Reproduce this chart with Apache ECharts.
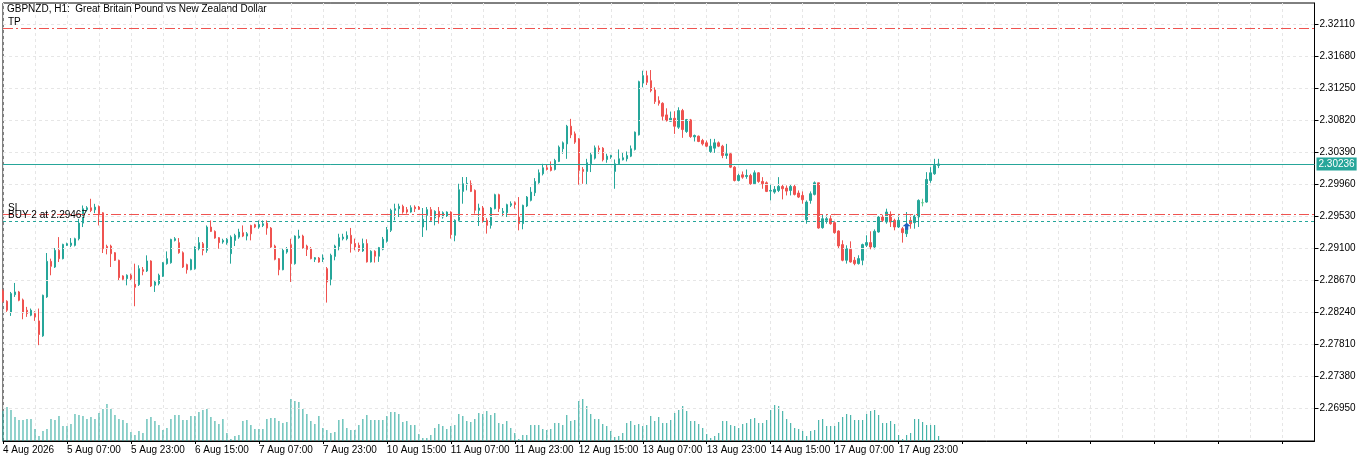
<!DOCTYPE html>
<html>
<head>
  <meta charset="utf-8" />
  <title>GBPNZD H1</title>
  <script src="https://cdn.jsdelivr.net/npm/echarts@6.0.0/dist/echarts.min.js"></script>
</head>
<style>
  body { margin: 0; padding: 0; overflow: hidden; background: #fff; }
</style>
<body>
  <div id="main" style="width: 1366px;height: 462px;"></div>
  <script type="text/javascript">
    // trading days shown on the chart (weekends skipped), first bar at 15:00
    const tradingDays = ['4 Aug', '5 Aug', '6 Aug', '7 Aug', '10 Aug', '11 Aug', '12 Aug', '13 Aug', '14 Aug',
      '17 Aug', '18 Aug', '19 Aug', '20 Aug', '21 Aug', '24 Aug'];
    const firstHour = 15;
    const slotCount = 329; // bars + empty space on the right

    // [open, high, low, close]
    const candles = [
      [2.28530, 2.28552, 2.28373, 2.28391], [2.28391, 2.28404, 2.28248, 2.28270], [2.28239, 2.28516, 2.28194, 2.28494],
      [2.28480, 2.28637, 2.28449, 2.28516], [2.28516, 2.28530, 2.28391, 2.28404], [2.28409, 2.28427, 2.28149, 2.28234],
      [2.28270, 2.28315, 2.28181, 2.28225], [2.28203, 2.28293, 2.28190, 2.28270], [2.28225, 2.28257, 2.28127, 2.28181],
      [2.28127, 2.28293, 2.27801, 2.27944], [2.27926, 2.28480, 2.27913, 2.28471], [2.28449, 2.29039, 2.28436, 2.28927],
      [2.28927, 2.28963, 2.28740, 2.28860], [2.28851, 2.29106, 2.28838, 2.29075], [2.29075, 2.29253, 2.28918, 2.28963],
      [2.28963, 2.29164, 2.28954, 2.29155], [2.29142, 2.29178, 2.29133, 2.29164], [2.29142, 2.29240, 2.29119, 2.29173],
      [2.29142, 2.29245, 2.29128, 2.29231], [2.29231, 2.29499, 2.29209, 2.29441], [2.29441, 2.29678, 2.29388, 2.29634],
      [2.29620, 2.29669, 2.29598, 2.29647], [2.29647, 2.29768, 2.29589, 2.29611], [2.29620, 2.29700, 2.29575, 2.29656],
      [2.29665, 2.29678, 2.29410, 2.29566], [2.29580, 2.29589, 2.29039, 2.29097], [2.29128, 2.29151, 2.29021, 2.29097],
      [2.29133, 2.29151, 2.28851, 2.29030], [2.29043, 2.29052, 2.28932, 2.28941], [2.28941, 2.28950, 2.28672, 2.28708],
      [2.28731, 2.28740, 2.28672, 2.28686], [2.28695, 2.28753, 2.28605, 2.28740], [2.28740, 2.28762, 2.28672, 2.28695],
      [2.28619, 2.28896, 2.28324, 2.28579], [2.28614, 2.28874, 2.28596, 2.28829], [2.28815, 2.28851, 2.28740, 2.28793],
      [2.28798, 2.29008, 2.28784, 2.28932], [2.28932, 2.28941, 2.28583, 2.28596], [2.28605, 2.28672, 2.28516, 2.28650],
      [2.28628, 2.28762, 2.28605, 2.28740], [2.28726, 2.28918, 2.28717, 2.28909], [2.28896, 2.29061, 2.28883, 2.28963],
      [2.28909, 2.29231, 2.28896, 2.29222], [2.29209, 2.29253, 2.29195, 2.29231], [2.29178, 2.29240, 2.29030, 2.29043],
      [2.29043, 2.29061, 2.28838, 2.28851], [2.28883, 2.28896, 2.28762, 2.28815], [2.28815, 2.28963, 2.28807, 2.28950],
      [2.28829, 2.29128, 2.28815, 2.29119], [2.29097, 2.29253, 2.29075, 2.29178], [2.29164, 2.29187, 2.29008, 2.29075],
      [2.29075, 2.29410, 2.29043, 2.29388], [2.29388, 2.29477, 2.29321, 2.29330], [2.29330, 2.29343, 2.29231, 2.29240],
      [2.29245, 2.29253, 2.29097, 2.29178], [2.29187, 2.29231, 2.29164, 2.29209], [2.29178, 2.29240, 2.29151, 2.29222],
      [2.29030, 2.29276, 2.28896, 2.29253], [2.29209, 2.29298, 2.29133, 2.29276], [2.29253, 2.29365, 2.29231, 2.29321],
      [2.29312, 2.29410, 2.29253, 2.29267], [2.29267, 2.29321, 2.29209, 2.29298], [2.29410, 2.29419, 2.29209, 2.29298],
      [2.29419, 2.29432, 2.29374, 2.29388], [2.29388, 2.29477, 2.29365, 2.29423], [2.29410, 2.29477, 2.29388, 2.29432],
      [2.29441, 2.29477, 2.29285, 2.29374], [2.29374, 2.29388, 2.29106, 2.29119], [2.29133, 2.29151, 2.28941, 2.28954],
      [2.28963, 2.28972, 2.28740, 2.28815], [2.28815, 2.29097, 2.28807, 2.29075], [2.29052, 2.29119, 2.29030, 2.29097],
      [2.29151, 2.29231, 2.28650, 2.28896], [2.28896, 2.29276, 2.28883, 2.29267], [2.29245, 2.29352, 2.29231, 2.29267],
      [2.29267, 2.29285, 2.29097, 2.29106], [2.29133, 2.29151, 2.28999, 2.29088], [2.29097, 2.29119, 2.28954, 2.28963],
      [2.28954, 2.28985, 2.28918, 2.28976], [2.28972, 2.28985, 2.28909, 2.28918], [2.28954, 2.29021, 2.28918, 2.28972],
      [2.28829, 2.28851, 2.28373, 2.28650], [2.28686, 2.29030, 2.28605, 2.29008], [2.28994, 2.29151, 2.28941, 2.29133],
      [2.29128, 2.29298, 2.29075, 2.29245], [2.29231, 2.29298, 2.29209, 2.29253], [2.29231, 2.29330, 2.29209, 2.29276],
      [2.29277, 2.29376, 2.29045, 2.29166], [2.29166, 2.29233, 2.29076, 2.29121], [2.29143, 2.29179, 2.29054, 2.29076],
      [2.29067, 2.29233, 2.29054, 2.29166], [2.29166, 2.29224, 2.28911, 2.28920], [2.28920, 2.29076, 2.28911, 2.29063],
      [2.29063, 2.29076, 2.28911, 2.28996], [2.28996, 2.29121, 2.28920, 2.29112], [2.29090, 2.29255, 2.29076, 2.29224],
      [2.29197, 2.29389, 2.29179, 2.29353], [2.29344, 2.29635, 2.29321, 2.29613], [2.29613, 2.29702, 2.29479, 2.29635],
      [2.29635, 2.29702, 2.29523, 2.29666], [2.29666, 2.29689, 2.29568, 2.29590], [2.29622, 2.29657, 2.29568, 2.29590],
      [2.29590, 2.29680, 2.29581, 2.29648], [2.29657, 2.29680, 2.29590, 2.29635], [2.29657, 2.29671, 2.29617, 2.29626],
      [2.29389, 2.29644, 2.29255, 2.29492], [2.29546, 2.29657, 2.29344, 2.29622], [2.29622, 2.29657, 2.29470, 2.29479],
      [2.29510, 2.29613, 2.29411, 2.29599], [2.29599, 2.29657, 2.29434, 2.29523], [2.29523, 2.29599, 2.29501, 2.29581],
      [2.29537, 2.29599, 2.29523, 2.29590], [2.29590, 2.29599, 2.29233, 2.29286], [2.29277, 2.29492, 2.29197, 2.29479],
      [2.29479, 2.29970, 2.29465, 2.29890], [2.29867, 2.30060, 2.29702, 2.29970], [2.29957, 2.30060, 2.29881, 2.29975],
      [2.29970, 2.30015, 2.29858, 2.29867], [2.29881, 2.29894, 2.29568, 2.29613], [2.29613, 2.29702, 2.29402, 2.29644],
      [2.29644, 2.29671, 2.29447, 2.29465], [2.29479, 2.29510, 2.29300, 2.29411], [2.29411, 2.29657, 2.29367, 2.29644],
      [2.29635, 2.29836, 2.29626, 2.29823], [2.29823, 2.29836, 2.29590, 2.29635], [2.29581, 2.29644, 2.29537, 2.29599],
      [2.29581, 2.29702, 2.29523, 2.29689], [2.29680, 2.29733, 2.29657, 2.29702], [2.29715, 2.29733, 2.29635, 2.29689],
      [2.29523, 2.29791, 2.29344, 2.29434], [2.29434, 2.29689, 2.29358, 2.29680], [2.29671, 2.29805, 2.29657, 2.29791],
      [2.29747, 2.29925, 2.29733, 2.29858], [2.29849, 2.30046, 2.29805, 2.30001], [2.29984, 2.30162, 2.29970, 2.30118],
      [2.30104, 2.30238, 2.30082, 2.30185], [2.30185, 2.30225, 2.30149, 2.30162], [2.30194, 2.30270, 2.30136, 2.30149],
      [2.30162, 2.30305, 2.30149, 2.30283], [2.30270, 2.30484, 2.30261, 2.30462], [2.30440, 2.30538, 2.30373, 2.30520],
      [2.30506, 2.30761, 2.30305, 2.30743], [2.30743, 2.30842, 2.30583, 2.30627], [2.30641, 2.30672, 2.30506, 2.30529],
      [2.30574, 2.30583, 2.29957, 2.30149], [2.30162, 2.30194, 2.29970, 2.30136], [2.30136, 2.30305, 2.29957, 2.30252],
      [2.30238, 2.30386, 2.30127, 2.30359], [2.30314, 2.30484, 2.30296, 2.30453], [2.30448, 2.30484, 2.30373, 2.30431],
      [2.30448, 2.30462, 2.30270, 2.30292], [2.30296, 2.30373, 2.30252, 2.30341], [2.30328, 2.30359, 2.30305, 2.30350],
      [2.30136, 2.30296, 2.29903, 2.30238], [2.30238, 2.30431, 2.30225, 2.30305], [2.30292, 2.30395, 2.30283, 2.30319],
      [2.30305, 2.30404, 2.30270, 2.30350], [2.30341, 2.30484, 2.30328, 2.30440], [2.30431, 2.30672, 2.30417, 2.30663],
      [2.30627, 2.31355, 2.30618, 2.31342], [2.31324, 2.31489, 2.31266, 2.31422], [2.31422, 2.31489, 2.31297, 2.31333],
      [2.31355, 2.31498, 2.31199, 2.31221], [2.31230, 2.31266, 2.31043, 2.31074], [2.31087, 2.31145, 2.31020, 2.31051],
      [2.31051, 2.31065, 2.30819, 2.30877], [2.30895, 2.30984, 2.30806, 2.30819], [2.30810, 2.30940, 2.30806, 2.30850],
      [2.30850, 2.30944, 2.30640, 2.30743], [2.30730, 2.30998, 2.30707, 2.30953], [2.30953, 2.30976, 2.30587, 2.30698],
      [2.30672, 2.30841, 2.30654, 2.30832], [2.30828, 2.30841, 2.30587, 2.30604], [2.30600, 2.30631, 2.30538, 2.30618],
      [2.30609, 2.30618, 2.30529, 2.30538], [2.30551, 2.30573, 2.30484, 2.30506], [2.30520, 2.30551, 2.30462, 2.30475],
      [2.30403, 2.30573, 2.30385, 2.30475], [2.30448, 2.30573, 2.30385, 2.30520], [2.30520, 2.30538, 2.30462, 2.30475],
      [2.30475, 2.30493, 2.30314, 2.30350], [2.30350, 2.30506, 2.30305, 2.30372], [2.30372, 2.30385, 2.30180, 2.30193],
      [2.30193, 2.30207, 2.30001, 2.30014], [2.30014, 2.30104, 2.30001, 2.30081], [2.30090, 2.30135, 2.30037, 2.30059],
      [2.30068, 2.30162, 2.30037, 2.30081], [2.30081, 2.30104, 2.29956, 2.29970], [2.29970, 2.30149, 2.29956, 2.30117],
      [2.30117, 2.30126, 2.29983, 2.30001], [2.30001, 2.30059, 2.29903, 2.29970], [2.29983, 2.30001, 2.29858, 2.29867],
      [2.29871, 2.29956, 2.29746, 2.29880], [2.29858, 2.29939, 2.29836, 2.29894], [2.29880, 2.30059, 2.29858, 2.29934],
      [2.29934, 2.29956, 2.29760, 2.29903], [2.29912, 2.29947, 2.29813, 2.29871], [2.29880, 2.29956, 2.29813, 2.29934],
      [2.29934, 2.29956, 2.29813, 2.29827], [2.29845, 2.29880, 2.29778, 2.29791], [2.29813, 2.29867, 2.29702, 2.29755],
      [2.29487, 2.29746, 2.29433, 2.29724], [2.29746, 2.29867, 2.29702, 2.29836], [2.29827, 2.30001, 2.29813, 2.29983],
      [2.29983, 2.29983, 2.29366, 2.29375], [2.29380, 2.29554, 2.29366, 2.29500], [2.29478, 2.29545, 2.29433, 2.29500],
      [2.29500, 2.29545, 2.29420, 2.29433], [2.29447, 2.29465, 2.29299, 2.29313], [2.29335, 2.29344, 2.29098, 2.29134],
      [2.29152, 2.29210, 2.28928, 2.28942], [2.28942, 2.29143, 2.28897, 2.29098], [2.29089, 2.29196, 2.28910, 2.28919],
      [2.28942, 2.28986, 2.28875, 2.28897], [2.28897, 2.29009, 2.28884, 2.28964], [2.28942, 2.29165, 2.28875, 2.29152],
      [2.29143, 2.29277, 2.29120, 2.29179], [2.29179, 2.29331, 2.29089, 2.29120], [2.29120, 2.29357, 2.29089, 2.29331],
      [2.29322, 2.29536, 2.29313, 2.29523], [2.29523, 2.29554, 2.29456, 2.29478], [2.29456, 2.29635, 2.29433, 2.29590],
      [2.29554, 2.29599, 2.29389, 2.29456], [2.29478, 2.29500, 2.29344, 2.29389], [2.29389, 2.29545, 2.29375, 2.29478],
      [2.29366, 2.29389, 2.29179, 2.29313], [2.29299, 2.29590, 2.29255, 2.29366], [2.29478, 2.29545, 2.29366, 2.29433],
      [2.29447, 2.29554, 2.29366, 2.29536], [2.29523, 2.29760, 2.29389, 2.29746], [2.29715, 2.29769, 2.29666, 2.29715],
      [2.29724, 2.30126, 2.29715, 2.30028], [2.30014, 2.30193, 2.29983, 2.30117], [2.30104, 2.30305, 2.30090, 2.30216],
      [2.30216, 2.30305, 2.30180, 2.30236]
    ];

    // tick volume per bar
    const volumes = [
      30, 34, 31, 24, 21, 21, 22, 22, 12, 5, 10, 12, 22, 21, 25, 15, 15, 17, 27, 26,
      25, 22, 24, 22, 28, 32, 37, 32, 26, 22, 21, 18, 9, 6, 10, 8, 22, 24, 20, 16,
      11, 13, 22, 26, 26, 21, 21, 25, 25, 29, 31, 32, 24, 20, 17, 22, 8, 2, 5, 6,
      20, 21, 16, 12, 12, 12, 22, 23, 23, 20, 18, 19, 42, 40, 39, 32, 27, 20, 17, 25,
      13, 11, 8, 9, 21, 22, 13, 11, 11, 16, 22, 26, 21, 21, 21, 21, 25, 29, 29, 27,
      19, 20, 16, 16, 7, 3, 3, 6, 13, 17, 15, 12, 15, 16, 27, 25, 20, 19, 22, 28,
      27, 30, 26, 28, 18, 17, 20, 13, 8, 2, 6, 6, 16, 16, 16, 12, 11, 12, 18, 18,
      16, 26, 20, 21, 40, 42, 35, 27, 22, 22, 17, 15, 10, 4, 5, 8, 18, 20, 16, 17,
      15, 16, 25, 20, 24, 18, 18, 21, 28, 31, 35, 30, 20, 20, 17, 13, 7, 3, 5, 8,
      20, 20, 16, 15, 13, 17, 18, 22, 23, 18, 18, 21, 31, 36, 35, 30, 22, 18, 13, 12,
      10, 5, 10, 11, 21, 22, 15, 15, 15, 19, 24, 27, 26, 21, 21, 21, 27, 30, 31, 26,
      18, 18, 20, 17, 6, 2, 6, 8, 22, 22, 19, 16, 16, 16, 5
    ];

    const priceTicks = [2.32110, 2.31680, 2.31250, 2.30820, 2.30390, 2.29960, 2.29530,
      2.29100, 2.28670, 2.28240, 2.27810, 2.27380, 2.26950];

    const takeProfit = 2.32056;
    const stopLoss = 2.29557;
    const buyPrice = 2.29467;
    const buyBar = 226;
    const dojiBar = 230;
    const lastPrice = 2.30236;

    const bull = '#26a69a';
    const bear = '#ef5350';
    const doji = '#5cc88e';
    const font = '"Liberation Sans", Arial, sans-serif';
    const fs = 10;

    const categories = [];
    for (let d = 0; d < tradingDays.length && categories.length < slotCount; d++) {
      for (let h = d === 0 ? firstHour : 0; h < 24 && categories.length < slotCount; h++) {
        categories.push(tradingDays[d] + ' ' + String(h).padStart(2, '0') + ':00');
      }
    }

    // one horizontal level line per series, drawn behind the candles
    function levelSeries(name, value, color, dash, label) {
      return {
        name: name, type: 'line', data: [], z: 2, silent: true,
        markLine: {
          silent: true, precision: 6, symbol: ['none', 'none'],
          lineStyle: { color: color, type: dash, width: 1, opacity: 1 },
          label: label,
          data: [{ yAxis: value }]
        }
      };
    }
    const levelLabel = text => ({
      show: true, position: 'insideStartTop', distance: [5, 1], formatter: text,
      color: '#000', fontSize: fs, fontFamily: font
    });

    const candleData = candles.map(([o, h, l, c], i) => {
      const item = { value: [o, c, l, h] };
      if (i === dojiBar) {
        item.itemStyle = { color: doji, color0: doji, borderColor: doji, borderColor0: doji };
      }
      return item;
    });

    const myChart = echarts.init(document.getElementById('main'));
    const option = {
      animation: false,
      backgroundColor: '#fff',
      textStyle: { fontFamily: font },
      grid: { left: 2.5, right: 51.5, top: 3, bottom: 21, show: true, borderColor: '#000', borderWidth: 1, backgroundColor: 'transparent' },
      graphic: [{
        type: 'text', left: 7, top: 4,
        style: { text: 'GBPNZD, H1:  Great Britain Pound vs New Zealand Dollar', fill: '#000', font: fs + 'px ' + font }
      }],
      xAxis: {
        type: 'category',
        data: categories,
        boundaryGap: false,
        axisLine: { lineStyle: { color: '#000' } },
        axisTick: { interval: 15, length: 3, lineStyle: { color: '#000' } },
        axisLabel: {
          interval: 15, align: 'left', margin: 4, color: '#000', fontSize: fs, fontFamily: font,
          formatter: (v, i) => (i === 0 ? '4 Aug 2026' : (i < candles.length ? v : ''))
        },
        splitLine: { show: true, interval: 7, lineStyle: { color: '#e6e6e6', type: [3, 3] } }
      },
      yAxis: [{
        type: 'value',
        position: 'right',
        min: 2.26513,
        max: 2.32399,
        axisLine: { show: true, lineStyle: { color: '#000' } },
        axisTick: { show: true, length: 4, customValues: priceTicks, lineStyle: { color: '#000' } },
        axisLabel: { customValues: priceTicks, margin: 5, color: '#000', fontSize: fs, fontFamily: font, formatter: v => v.toFixed(5) },
        splitLine: { show: false }
      }, {
        type: 'value', show: false, min: 0, max: 438
      }],
      series: [
        {
          name: 'grid', type: 'line', data: [], z: 1, silent: true,
          markLine: {
            silent: true, precision: 6, symbol: ['none', 'none'], label: { show: false },
            lineStyle: { color: '#e6e6e6', type: [3, 3], width: 1 },
            data: priceTicks.map(v => ({ yAxis: v }))
          }
        },
        levelSeries('TP', takeProfit, bear, [10, 3, 2, 3], levelLabel('TP')),
        levelSeries('SL', stopLoss, bear, [10, 3, 2, 3], levelLabel('SL')),
        levelSeries('BUY', buyPrice, bull, [3, 3], levelLabel('BUY 2 at ' + buyPrice.toFixed(5))),
        levelSeries('Bid', lastPrice, bull, 'solid', {
          show: true, position: 'end', distance: 2, formatter: lastPrice.toFixed(5), color: '#fff',
          backgroundColor: bull, padding: [2, 2, 1, 2], fontSize: fs, fontFamily: font
        }),
        {
          name: 'volume', type: 'bar', yAxisIndex: 1, data: volumes, barWidth: 1, z: 2, silent: true,
          itemStyle: { color: bull }
        },
        {
          name: 'GBPNZD', type: 'candlestick', z: 3, barWidth: 2,
          data: candleData,
          itemStyle: { color: bull, color0: bear, borderColor: bull, borderColor0: bear, borderWidth: 1 },
          markPoint: {
            silent: true,
            symbol: 'path://M5,0 L10,5 L7,5 L7,10 L3,10 L3,5 L0,5 Z',
            symbolSize: [8, 7],
            symbolOffset: [0, 5],
            label: { show: false },
            itemStyle: { color: '#1f5fbf' },
            data: [{ coord: [categories[buyBar], buyPrice] }]
          }
        }
      ]
    };
    myChart.setOption(option);
  </script>
</body>
</html>
